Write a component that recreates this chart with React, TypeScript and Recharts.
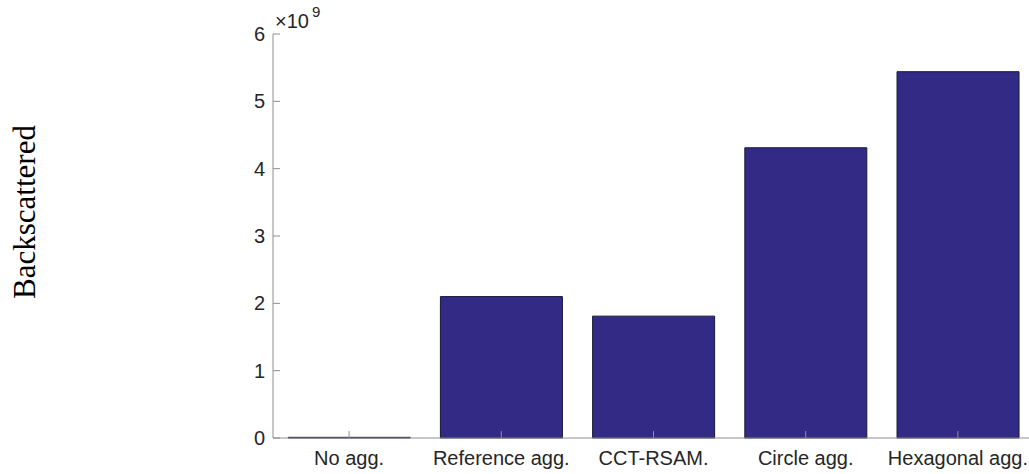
import React from "react";
import { BarChart, Bar, XAxis, YAxis } from "recharts";

const categories = ["No agg.", "Reference agg.", "CCT-RSAM.", "Circle agg.", "Hexagonal agg."];
const backscattered = [0.01e9, 2.1e9, 1.81e9, 4.31e9, 5.44e9];
const yTicks = [0, 1e9, 2e9, 3e9, 4e9, 5e9, 6e9];

const data = categories.map((name, i) => ({ name, value: backscattered[i] }));

const AXIS = "#8f8f8f";
const TEXT = "#262626";
const FONT = "'Liberation Sans', Arial, sans-serif";

// ticks point inward, like the original figure
const LeftTick = (props: any) => {
  const { x, y, payload } = props;
  return (
    <g>
      <line x1={x + 8} x2={x + 15} y1={y} y2={y} stroke={AXIS} />
      <text x={x} y={y} dy="0.35em" textAnchor="end" fill={TEXT} fontSize={20} fontFamily={FONT}>
        {payload.value / 1e9}
      </text>
    </g>
  );
};

const RightTick = (props: any) => {
  const { x, y } = props;
  return <line x1={x} x2={x - 7} y1={y} y2={y} stroke={AXIS} />;
};

const BottomTick = (props: any) => {
  const { x, y, payload } = props;
  return (
    <g>
      <line x1={x} x2={x} y1={y - 11} y2={y - 18} stroke={AXIS} />
      <text x={x} y={y} dy="0.8em" textAnchor="middle" fill={TEXT} fontSize={20} fontFamily={FONT}>
        {payload.value}
      </text>
    </g>
  );
};

const TopTick = (props: any) => {
  const { x, y } = props;
  return <line x1={x} x2={x} y1={y} y2={y + 7} stroke={AXIS} />;
};

export default function App() {
  return (
    <div style={{ position: "absolute", left: 0, top: 0, width: 1029, height: 474, overflow: "hidden", background: "#fff" }}>
      <BarChart
        width={1045}
        height={474}
        data={data}
        margin={{ top: 34, right: 10, bottom: 0, left: 0 }}
        barCategoryGap="10%"
      >
        <XAxis
          dataKey="name"
          height={36}
          tickLine={false}
          tickSize={0}
          tickMargin={11}
          axisLine={{ stroke: AXIS }}
          tick={<BottomTick />}
          interval={0}
        />
        <XAxis
          xAxisId="top"
          dataKey="name"
          orientation="top"
          height={0}
          tickLine={false}
          tickSize={0}
          tickMargin={0}
          axisLine={{ stroke: AXIS }}
          tick={<TopTick />}
          interval={0}
        />
        <YAxis
          type="number"
          domain={[0, 6e9]}
          ticks={yTicks}
          width={273}
          tickLine={false}
          tickSize={0}
          tickMargin={8}
          axisLine={{ stroke: AXIS }}
          tick={<LeftTick />}
          interval={0}
        />
        <YAxis
          yAxisId="right"
          type="number"
          orientation="right"
          domain={[0, 6e9]}
          ticks={yTicks}
          width={1}
          tickLine={false}
          tickSize={0}
          tickMargin={0}
          axisLine={{ stroke: AXIS }}
          tick={<RightTick />}
          interval={0}
        />
        <Bar dataKey="value" fill="#332a85" stroke="#17173a" strokeWidth={1} isAnimationActive={false} />
      </BarChart>
      <svg width={1029} height={474} style={{ position: "absolute", left: 0, top: 0, pointerEvents: "none" }}>
        <text x={275} y={28} fill={TEXT} fontSize={20} fontFamily={FONT}>
          ×10
        </text>
        <text x={312} y={17} fill={TEXT} fontSize={15} fontFamily={FONT}>
          9
        </text>
        <text
          transform="translate(35,212) rotate(-90)"
          textAnchor="middle"
          fill="#000"
          fontSize={31}
          fontFamily="'Liberation Serif', 'Times New Roman', serif"
        >
          Backscattered
        </text>
      </svg>
    </div>
  );
}
